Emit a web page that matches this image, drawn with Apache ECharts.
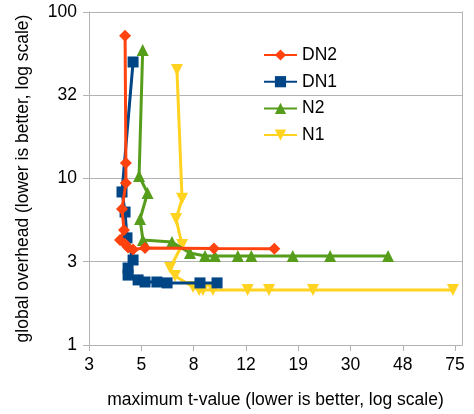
<!DOCTYPE html>
<html>
<head>
<meta charset="utf-8">
<script src="https://cdn.jsdelivr.net/npm/echarts@6/dist/echarts.min.js"></script>
<style>
html,body{margin:0;padding:0;background:#fff;}
#c{width:474px;height:414px;}
</style>
</head>
<body>
<div id="c"></div>
<script>
// ---- data (x = maximum t-value, y = global overhead) ----
var seriesNames = ['DN2', 'DN1', 'N2', 'N1'];
var dn2 = [[4.12,72],[4.15,12.4],[4.15,9.4],[4.01,6.56],[4.08,4.91],[3.94,4.27],[4.12,4.04],[4.23,3.85],[4.42,3.75],[4.91,3.83],[9.0,3.80],[15.3,3.78]];
var dn1 = [[4.42,50.1],[4.01,8.3],[4.12,6.29],[4.19,4.4],[4.42,3.24],[4.23,2.90],[4.23,2.63],[4.62,2.46],[4.91,2.39],[5.45,2.39],[5.96,2.36],[7.96,2.36],[9.25,2.36]];
var n2 = [[4.81,59.1],[4.66,10.35],[5.02,8.18],[4.70,5.71],[4.82,4.27],[6.22,4.15],[7.29,3.57],[8.32,3.42],[9.08,3.42],[11.1,3.42],[12.5,3.42],[18.0,3.42],[25.0,3.42],[41.6,3.42]];
var n1 = [[6.50,44.8],[6.80,7.55],[6.45,5.71],[6.80,3.99],[6.12,2.90],[6.39,2.60],[7.49,2.23],[7.9,2.14],[8.17,2.14],[8.92,2.14],[12.1,2.14],[14.6,2.14],[21.5,2.14],[73.6,2.14]];

var xTickValues = [3, 4.751, 7.525, 11.92, 18.88, 29.90, 47.36, 75];
var xTickLabels = ['3', '5', '8', '12', '19', '30', '48', '75'];
var yTickValues = [1, 3.1623, 10, 31.623, 100];
var yTickLabels = ['1', '3', '10', '32', '100'];

var xTitle = 'maximum t-value (lower is better, log scale)';
var yTitle = 'global overhead (lower is better, log scale)';

var colors = ['#ff420e', '#004586', '#579d1c', '#ffd320'];
var FONT = '"Liberation Sans", Arial, sans-serif';
var FS = 17.5;

function nearestLabel(v, vals, labels) {
  var best = -1, bd = Infinity;
  for (var i = 0; i < vals.length; i++) {
    var d = Math.abs(Math.log(v) - Math.log(vals[i]));
    if (d < bd) { bd = d; best = i; }
  }
  return bd < 0.01 ? labels[best] : '';
}

var chart = echarts.init(document.getElementById('c'), null, {renderer: 'canvas'});
var gray = '#b3b3b3';
function mk(name, data, color, symbol, size, rot, z) {
  return {
    name: name, type: 'line', data: data, yAxisIndex: 0,
    symbol: symbol, symbolSize: size, symbolRotate: rot || 0,
    showSymbol: true,
    lineStyle: {color: color, width: 3},
    itemStyle: {color: color},
    z: z,
    animation: false
  };
}
chart.setOption({
  animation: false,
  color: colors,
  textStyle: {fontFamily: FONT},
  grid: {left: 89, top: 12, right: 12, bottom: 69, show: false, containLabel: false},
  legend: {
    orient: 'vertical', left: 258, top: 41,
    itemWidth: 33, itemHeight: 14, itemGap: 8.7,
    textStyle: {fontSize: FS, color: '#000', fontFamily: FONT},
    data: seriesNames
  },
  xAxis: {
    type: 'log', logBase: 10, min: 3, max: 79.7,
    name: xTitle, nameLocation: 'middle', nameGap: 46,
    nameTextStyle: {fontSize: FS, color: '#000', fontFamily: FONT},
    axisLine: {show: true, lineStyle: {color: gray, width: 1}},
    axisTick: {show: true, length: 6, lineStyle: {color: gray}, customValues: xTickValues},
    axisLabel: {customValues: xTickValues, fontSize: FS, color: '#000', margin: 11, fontFamily: FONT,
      formatter: function (v) { return nearestLabel(v, xTickValues, xTickLabels); }},
    splitLine: {show: false}
  },
  yAxis: [{
    type: 'log', logBase: 10, min: 1, max: 100,
    name: yTitle, nameLocation: 'middle', nameGap: 57,
    nameTextStyle: {fontSize: FS, color: '#000', fontFamily: FONT},
    axisLine: {show: true, lineStyle: {color: gray, width: 1}},
    axisTick: {show: true, length: 6, lineStyle: {color: gray}, customValues: yTickValues},
    axisLabel: {customValues: yTickValues, fontSize: FS, color: '#000', margin: 12, fontFamily: FONT,
      formatter: function (v) { return nearestLabel(v, yTickValues, yTickLabels); }},
    splitLine: {show: true, lineStyle: {color: gray, width: 1}}
  }, {
    type: 'log', logBase: 10, min: 1, max: 100, position: 'right',
    axisLine: {show: true, lineStyle: {color: gray, width: 1}},
    axisTick: {show: false}, axisLabel: {show: false}, splitLine: {show: false}
  }],
  series: [
    mk('DN2', dn2, colors[0], 'diamond', 12, 0, 5),
    mk('DN1', dn1, colors[1], 'rect', 11, 0, 4),
    mk('N2', n2, colors[2], 'triangle', 12, 0, 3),
    mk('N1', n1, colors[3], 'triangle', 12, 180, 2)
  ]
});
</script>
</body>
</html>
